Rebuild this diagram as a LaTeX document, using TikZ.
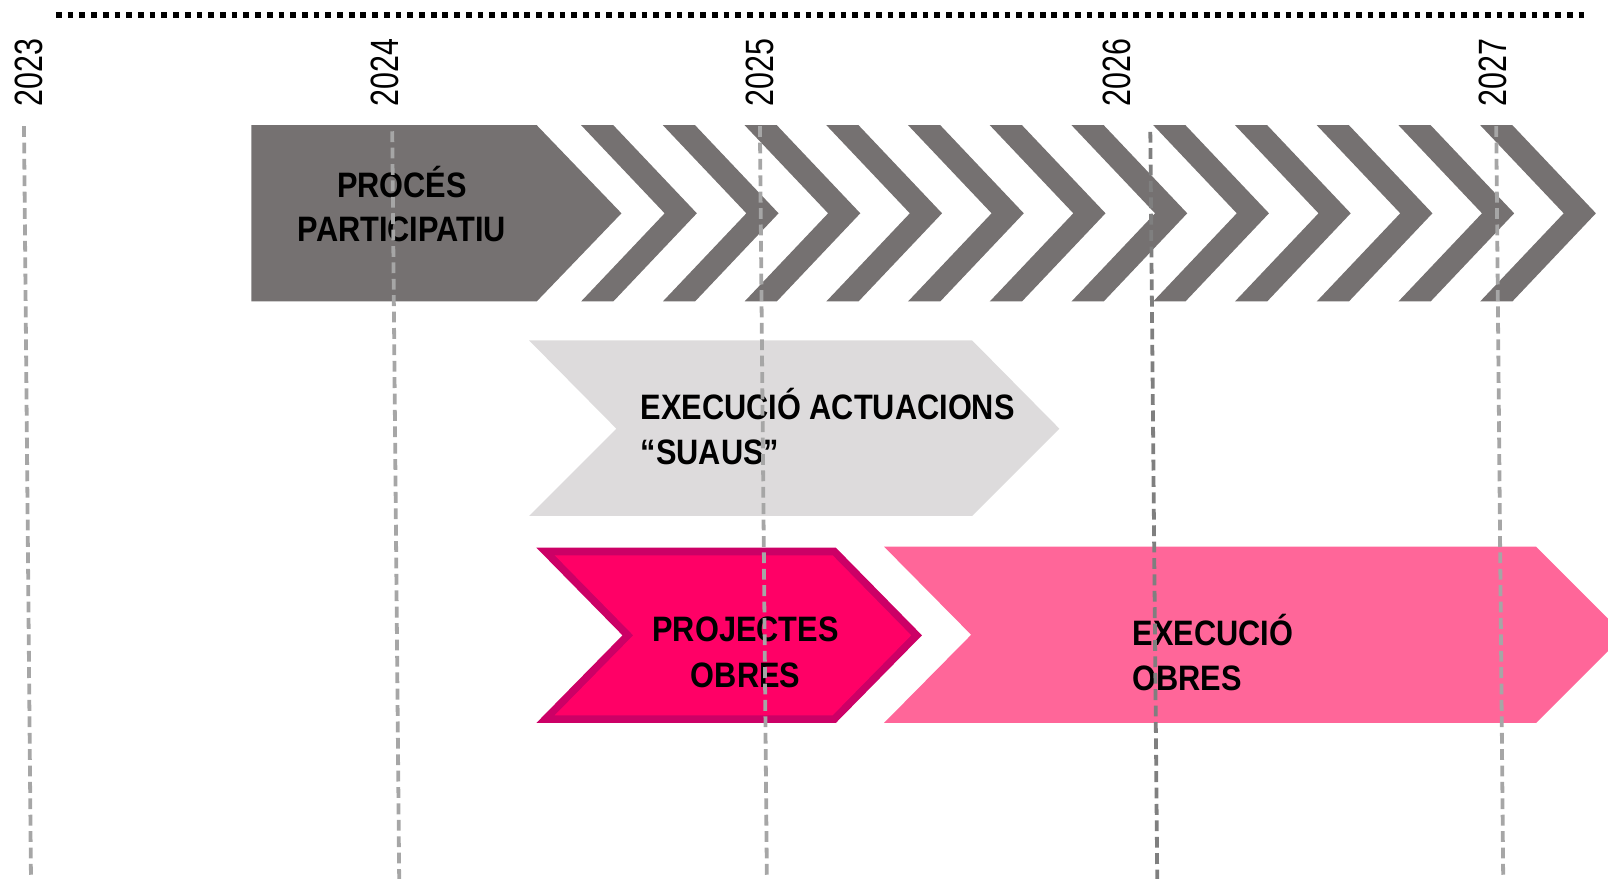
\documentclass[tikz,border=0pt]{standalone}
\usepackage{fontspec}
\newfontfamily\barfont[FakeStretch=0.87]{Liberation Sans}
\newfontfamily\yearfont[FakeStretch=0.77]{Liberation Sans}
\definecolor{procgrey}{HTML}{757171}
\definecolor{suaugrey}{HTML}{DDDBDC}
\definecolor{projpink}{HTML}{FF0066}
\definecolor{projedge}{HTML}{CC0066}
\definecolor{obrapink}{HTML}{FF6699}
\definecolor{yeargrey}{HTML}{A6A6A6}
\definecolor{yeardark}{HTML}{7F7F7F}

\begin{document}
\begin{tikzpicture}[x=0.02cm,y=-0.02cm]
        \tikzstyle{bartext}=[inner sep=0pt,anchor=base,font=\barfont\bfseries\fontsize{19.6}{24}\selectfont]
        \tikzstyle{barleft}=[bartext,anchor=base west]
        \tikzstyle{year}=[inner sep=0pt,rotate=90,anchor=base west,font=\yearfont\fontsize{21.9}{26}\selectfont]
        \tikzstyle{yearline}=[draw=yeargrey,line width=2.1pt,dash pattern=on 6pt off 3.1pt]
        \useasboundingbox (0,0) rectangle (1568,857);
        \clip (0,0) rectangle (1568,857);
        \draw[line width=2.9pt,dash pattern=on 3.2pt off 3.3pt] (54.6,14.6) -- (1550,14.6);
        \fill[procgrey] (245,122) -- (523.3,122) -- (606,208) -- (523.3,294) -- (245,294) -- cycle;
        \foreach \i in {0,...,11}
            \fill[procgrey] ({566.6+\i*79.7},122) -- ++(31.4,0) -- ++(81.5,86) -- ++(-81.5,86) -- ++(-31.4,0) -- ++(81.5,-86) -- cycle;
        \fill[suaugrey] (516,332) -- (948,332) -- (1033,418) -- (948,503) -- (516,503) -- (601,418) -- cycle;
        \fill[projedge] (523,534) -- (815,534) -- (899,619.5) -- (815,705) -- (523,705) -- (607,619.5) -- cycle;
        \fill[projpink] (540.9,541.5) -- (811.9,541.5) -- (888.5,619.5) -- (811.9,697.5) -- (540.9,697.5) -- (617.5,619.5) -- cycle;
        \fill[obrapink] (862,533) -- (1497.8,533) -- (1583.8,619) -- (1497.8,705) -- (862,705) -- (947,619) -- cycle;
        \node[bartext] (proces) at (392,193) {PROCÉS};
        \node[bartext] (particip) at (392,235.7) {PARTICIPATIU};
        \node[barleft] (execsuau) at (624.5,409) {EXECUCIÓ ACTUACIONS};
        \node[barleft] (suaus) at (624.5,452.5) {“SUAUS”};
        \node[bartext] (projectes) at (727,626) {PROJECTES};
        \node[bartext] (projobres) at (727,670) {OBRES};
        \node[barleft] (execobra) at (1104,629) {EXECUCIÓ};
        \node[barleft] (obres) at (1104,673) {OBRES};
        \foreach \yr/\xl/\xt/\yt in {2023/41/23.4/123,2024/389/382.5/128,2025/754/741/123,2026/1102/1121.7/128.5,2027/1469/1459/123} {
            \node[year] (y\yr) at (\xl,104.3) {\yr};
            \coordinate (top\yr) at (\xt,\yt);
            \coordinate (bot\yr) at ({\xt+6.8},{\yt+734});
        }
        \foreach \yr in {2023,2024,2025,2027}
            \draw[yearline] (top\yr) -- (bot\yr);
        \draw[yearline,draw=yeardark] (top2026) -- (bot2026);
\end{tikzpicture}
\end{document}
